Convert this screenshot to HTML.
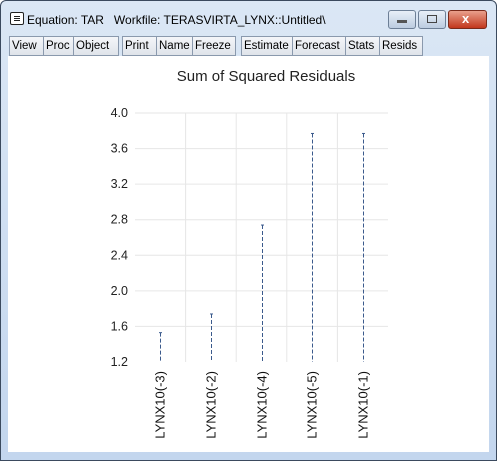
<!DOCTYPE html>
<html><head><meta charset="utf-8"><style>
body{margin:0;width:497px;height:461px;overflow:hidden;font-family:"Liberation Sans",sans-serif;}
#win{position:absolute;left:0;top:0;width:495px;height:459px;border:1px solid #3b4a5e;border-radius:6px 6px 0 0;background:linear-gradient(#dbe7f5,#c3d6ee);}
#title{position:absolute;left:26px;top:12px;font-size:12px;color:#000;}
#sysicon{position:absolute;left:9px;top:11px;width:12px;height:11px;border:1px solid #222;border-radius:2px;background:#fff;}
.tb{position:absolute;top:35px;height:19px;font-size:11.5px;line-height:19px;color:#000;}
.btn{position:absolute;top:0;height:18px;border:1px solid #8a99ad;background:linear-gradient(#f4f6f9,#dfe4ea);padding:0 2px;}
.wb{position:absolute;top:9px;height:17px;border:1px solid #6d7f96;border-radius:3px;background:linear-gradient(#e8eff8,#bccce0);}
#client{position:absolute;left:8px;top:56px;width:481px;height:396px;background:#fff;}
</style></head><body>
<div id="win">
<div id="sysicon"><div style="position:absolute;left:3px;top:3px;width:6px;height:1px;background:#222;box-shadow:0 2px 0 #222,0 4px 0 #222"></div></div>
<div id="title">Equation: TAR&nbsp;&nbsp; Workfile: TERASVIRTA_LYNX::Untitled\</div>
<div class="wb" style="left:387px;width:26px"><div style="position:absolute;left:8px;top:9px;width:10px;height:3px;background:#555;"></div></div>
<div class="wb" style="left:417px;width:26px"><div style="position:absolute;left:8px;top:4px;width:8px;height:6px;border:1px solid #444;"></div></div>
<div class="wb" style="left:447px;width:37px;background:linear-gradient(#e9a08c,#c2371c);border-color:#7a2a1a"><div style="position:absolute;left:13px;top:0;color:#fff;font-weight:bold;font-size:13px">x</div></div>
<div class="tb">
<div class="btn" style="left:8px;width:30px">View</div>
<div class="btn" style="left:42px;width:28px">Proc</div>
<div class="btn" style="left:72px;width:40px">Object</div>
<div class="btn" style="left:121px;width:31px">Print</div>
<div class="btn" style="left:155px;width:33px">Name</div>
<div class="btn" style="left:191px;width:38px">Freeze</div>
<div class="btn" style="left:240px;width:48px">Estimate</div>
<div class="btn" style="left:291px;width:51px">Forecast</div>
<div class="btn" style="left:344px;width:32px">Stats</div>
<div class="btn" style="left:378px;width:38px">Resids</div>
</div>
</div>
<div id="client"></div>
<svg id="chart" width="497" height="461" style="position:absolute;left:0;top:0"></svg>
<script>
const categories=["LYNX10(-3)","LYNX10(-2)","LYNX10(-4)","LYNX10(-5)","LYNX10(-1)"];
const values=[1.53,1.74,2.74,3.77,3.77];
const yTicks=[1.2,1.6,2.0,2.4,2.8,3.2,3.6,4.0];
const tickLabels=["1.2","1.6","2.0","2.4","2.8","3.2","3.6","4.0"];
const NS="http://www.w3.org/2000/svg";
const svg=document.getElementById('chart');
const L=135,R=388,T=113,B=362,ymin=1.2,ymax=4.0;
const y=v=>B-(v-ymin)/(ymax-ymin)*(B-T);
const step=(R-L)/categories.length;
const x=i=>L+step*(i+0.5);
function mk(t,a){const e=document.createElementNS(NS,t);for(const k in a)e.setAttribute(k,a[k]);svg.appendChild(e);return e;}
let t=mk('text',{x:266,y:81,'text-anchor':'middle','font-size':'15','font-family':'Liberation Sans, sans-serif',fill:'#222'});
t.textContent='Sum of Squared Residuals';


yTicks.forEach((v,i)=>{
 if(i>0){const g=mk('line',{x1:L,x2:R,y1:y(v),y2:y(v),stroke:'#e6e6e6','stroke-width':1});
 
 }
 const tx=mk('text',{x:128,y:y(v)+4,'text-anchor':'end','font-size':'12.5','font-family':'Liberation Sans, sans-serif',fill:'#222'});
 tx.textContent=tickLabels[i];
 
 
});
for(let i=1;i<categories.length;i++){
 const g=mk('line',{x1:L+step*i,x2:L+step*i,y1:T,y2:B,stroke:'#e6e6e6','stroke-width':1});
 
 
}
categories.forEach((c,i)=>{
 const cx=Math.round(x(i))+0.5;
 const s=mk('line',{x1:cx,x2:cx,y1:y(values[i]),y2:B,stroke:'#3b5a8c','stroke-width':1,'stroke-dasharray':'4,2'});
 
 
 const cap=mk('line',{x1:cx-1.5,x2:cx+1.5,y1:y(values[i]),y2:y(values[i]),stroke:'#3b5a8c','stroke-width':1});
 
 
 const lb=mk('text',{x:0,y:0,'text-anchor':'end','font-size':'13','font-family':'Liberation Sans, sans-serif',fill:'#111',transform:`translate(${cx+4},371) rotate(-90)`});
 lb.textContent=c;
 
 
});
</script>
</body></html>
